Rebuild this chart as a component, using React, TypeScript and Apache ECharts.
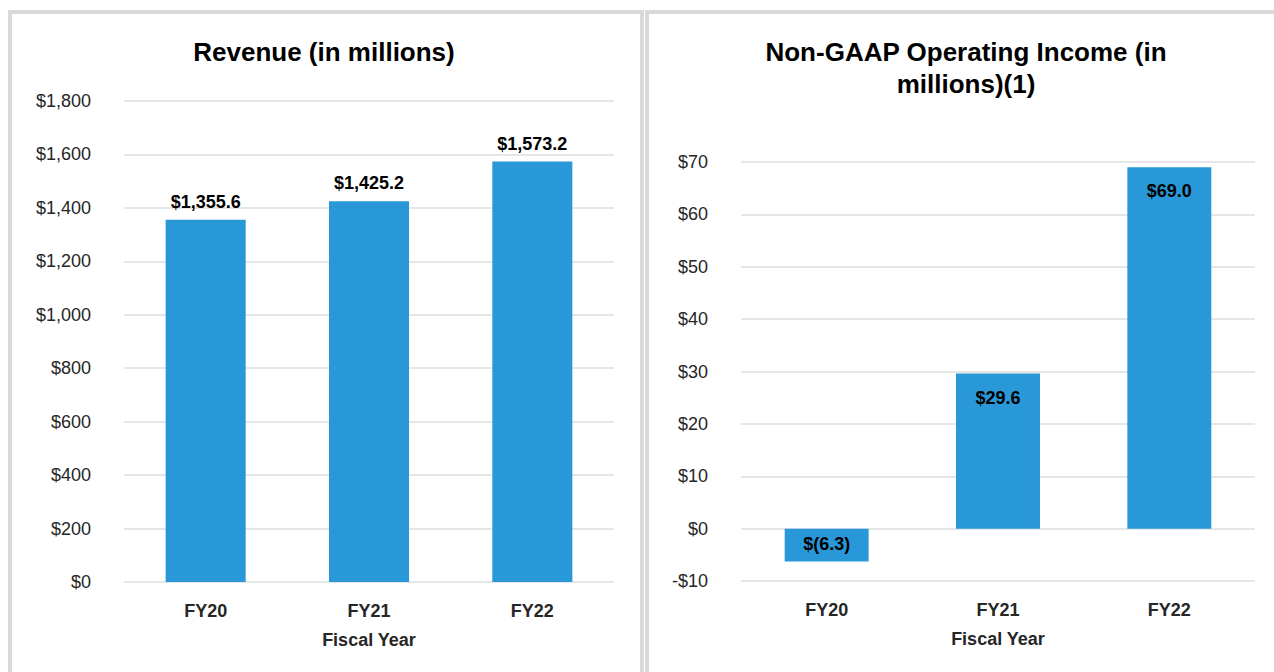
import React, { useEffect, useRef } from "react";
import * as echarts from "echarts";

const categories = ["FY20", "FY21", "FY22"];
const revenue = [1355.6, 1425.2, 1573.2];
const opIncome = [-6.3, 29.6, 69.0];
const revenueTitle = "Revenue (in millions)";
const incomeTitle = "Non-GAAP Operating Income (in\nmillions)(1)";
const xAxisName = "Fiscal Year";

const FONT = "Arial, 'Liberation Sans', sans-serif";
const BAR = "#2898d8";
const TXT = "#262626";

const fmtMoney = (v: number, dec: number) => {
  const abs = Math.abs(v).toLocaleString("en-US", {
    minimumFractionDigits: dec,
    maximumFractionDigits: dec,
  });
  return v < 0 ? `$(${abs})` : `$${abs}`;
};

export default function App() {
  const ref = useRef<HTMLDivElement>(null);
  useEffect(() => {
    if (!ref.current) return;
    const chart = echarts.init(ref.current, undefined, { renderer: "svg" });
    const xAxisCommon = {
      type: "category" as const,
      data: categories,
      axisLine: { show: false, onZero: false },
      axisTick: { show: false },
      axisLabel: { fontFamily: FONT, fontSize: 18, fontWeight: "bold", color: TXT, margin: 20 },
      name: xAxisName,
      nameLocation: "middle" as const,
      nameGap: 49,
      nameTextStyle: { fontFamily: FONT, fontSize: 18, fontWeight: "bold", color: TXT },
    };
    const splitLine = { show: true, lineStyle: { color: "#e6e6e6", width: 2 } };
    const yLabel = {
      fontFamily: FONT,
      fontSize: 18,
      color: TXT,
      margin: 33,
      padding: [6, 0, 0, 0],
    };
    chart.setOption({
      animation: false,
      backgroundColor: "transparent",
      graphic: [
        {
          type: "text",
          x: 324,
          y: 52,
          style: {
            text: revenueTitle,
            font: `bold 26px ${FONT}`,
            fill: "#000",
            textAlign: "center",
            textVerticalAlign: "middle",
          },
        },
        {
          type: "text",
          x: 966,
          y: 68,
          style: {
            text: incomeTitle,
            font: `bold 26px ${FONT}`,
            lineHeight: 32,
            fill: "#000",
            textAlign: "center",
            textVerticalAlign: "middle",
          },
        },
      ],
      grid: [
        { left: 124, right: 1274 - 614, top: 101, bottom: 672 - 582 },
        { left: 741, right: 1274 - 1255, top: 162, bottom: 672 - 581 },
      ],
      xAxis: [
        { ...xAxisCommon, gridIndex: 0 },
        { ...xAxisCommon, gridIndex: 1 },
      ],
      yAxis: [
        {
          type: "value",
          gridIndex: 0,
          min: 0,
          max: 1800,
          interval: 200,
          axisLine: { show: false },
          axisTick: { show: false },
          splitLine,
          axisLabel: {
            ...yLabel,
            formatter: (v: number) => "$" + v.toLocaleString("en-US"),
          },
        },
        {
          type: "value",
          gridIndex: 1,
          min: -10,
          max: 70,
          interval: 10,
          axisLine: { show: false },
          axisTick: { show: false },
          splitLine,
          axisLabel: {
            ...yLabel,
            formatter: (v: number) => (v < 0 ? "-$" + Math.abs(v) : "$" + v),
          },
        },
      ],
      series: [
        {
          type: "bar",
          xAxisIndex: 0,
          yAxisIndex: 0,
          data: revenue,
          barWidth: "49%",
          itemStyle: { color: BAR },
          label: {
            show: true,
            position: "top",
            distance: 9,
            fontFamily: FONT,
            fontSize: 18,
            fontWeight: "bold",
            color: "#000",
            formatter: (p: any) => fmtMoney(p.value, 1),
          },
        },
        {
          type: "bar",
          xAxisIndex: 1,
          yAxisIndex: 1,
          data: opIncome.map((v) =>
            v < 0 ? { value: v, label: { distance: 6 } } : { value: v }
          ),
          barWidth: "49%",
          itemStyle: { color: BAR },
          label: {
            show: true,
            position: "insideTop",
            distance: 15,
            fontFamily: FONT,
            fontSize: 18,
            fontWeight: "bold",
            color: "#000",
            formatter: (p: any) => fmtMoney(p.value, 1),
          },
        },
      ],
    });
    return () => chart.dispose();
  }, []);

  const panel = (left: number, width: number): React.CSSProperties => ({
    position: "absolute",
    left,
    top: 10,
    width,
    height: 700,
    border: "4px solid #d9d9d9",
    boxSizing: "border-box",
    background: "#fff",
  });

  return (
    <div style={{ position: "absolute", left: 0, top: 0, width: 1274, height: 672, overflow: "hidden", background: "#fff" }}>
      <div style={panel(8, 636)} />
      <div style={panel(645, 640)} />
      <div ref={ref} style={{ position: "absolute", left: 0, top: 0, width: 1274, height: 672 }} />
    </div>
  );
}
